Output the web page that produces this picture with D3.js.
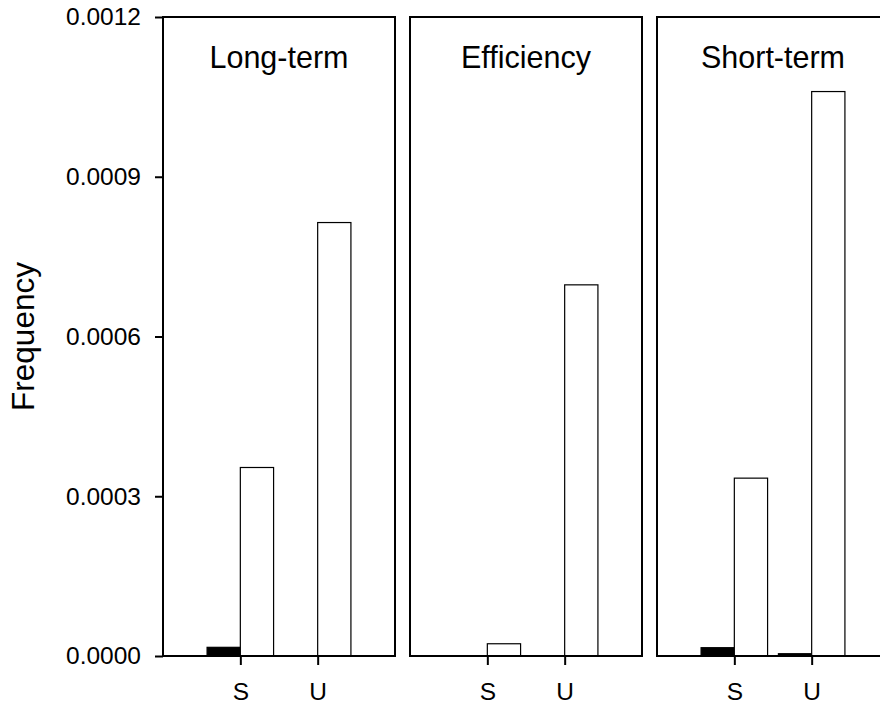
<!DOCTYPE html>
<html>
<head>
<meta charset="utf-8">
<script src="https://cdn.jsdelivr.net/npm/d3@7"></script>
<style>
  body { margin: 0; background: #fff; }
  svg { display: block; font-family: "Liberation Sans", Arial, Helvetica, sans-serif; }
  .tick text { font-size: 24.5px; fill: #000; }
  .tick line { stroke: #000; stroke-width: 2; }
  .domain { display: none; }
</style>
</head>
<body>
<script>
// values
var panelNames = ["Long-term", "Efficiency", "Short-term"];
var groupNames = ["S", "U"];
var filledValues = [[0.0000163, 0], [0, 0], [0.0000156, 0.0000043]];
var openValues = [[0.000354, 0.000814], [0.000023, 0.000697], [0.000334, 0.00106]];
var yTicks = [0, 0.0003, 0.0006, 0.0009, 0.0012];

var w = 880, h = 705;
var panelLeft = 163, panelWidth = 232, panelGap = 15;
var plotTop = 17, plotBottom = 656;
var barWidth = 0.43;

var svg = d3.select("body")
	.append("svg")
	.attr("width", w)
	.attr("height", h);

var y = d3.scaleLinear()
	.domain([0, 0.0012])
	.range([plotBottom, plotTop]);

//Y axis on the first panel only
svg.append("g")
	.attr("transform", "translate(" + panelLeft + ",0)")
	.call(d3.axisLeft(y)
		.tickValues(yTicks)
		.tickFormat(d3.format(".4f"))
		.tickSize(8)
		.tickPadding(14));

svg.append("text")
	.attr("transform", "translate(34," + ((plotTop + plotBottom) / 2) + ") rotate(-90)")
	.attr("text-anchor", "middle")
	.style("font-size", "31.5px")
	.text("Frequency");

panelNames.forEach(function(name, p) {
	var x0 = panelLeft + p * (panelWidth + panelGap);
	var x = d3.scaleLinear()
		.domain([0, 3])
		.range([x0, x0 + panelWidth]);

	var g = svg.append("g");

	//bars, filled one left of the group centre, open one right of it
	var rows = groupNames.map(function(gName, i) {
		return { center: i + 1, filled: filledValues[p][i], open: openValues[p][i] };
	});

	g.selectAll("rect.filled")
		.data(rows)
		.enter()
		.append("rect")
		.attr("class", "filled")
		.attr("x", function(d) { return x(d.center - barWidth); })
		.attr("y", function(d) { return y(d.filled); })
		.attr("width", function(d) { return x(d.center) - x(d.center - barWidth); })
		.attr("height", function(d) { return y(0) - y(d.filled); })
		.attr("fill", "#000")
		.attr("stroke", "#000")
		.attr("stroke-width", 1.2);

	g.selectAll("rect.open")
		.data(rows)
		.enter()
		.append("rect")
		.attr("class", "open")
		.attr("x", function(d) { return x(d.center); })
		.attr("y", function(d) { return y(d.open); })
		.attr("width", function(d) { return x(d.center + barWidth) - x(d.center); })
		.attr("height", function(d) { return y(0) - y(d.open); })
		.attr("fill", "#fff")
		.attr("stroke", "#000")
		.attr("stroke-width", 1.2);

	//frame
	g.append("rect")
		.attr("x", x0)
		.attr("y", plotTop)
		.attr("width", panelWidth)
		.attr("height", plotBottom - plotTop)
		.attr("fill", "none")
		.attr("stroke", "#000")
		.attr("stroke-width", 2);

	g.append("g")
		.attr("transform", "translate(0," + plotBottom + ")")
		.call(d3.axisBottom(x)
			.tickValues([1, 2])
			.tickFormat(function(d) { return groupNames[d - 1]; })
			.tickSize(9)
			.tickPadding(18));

	g.append("text")
		.attr("x", x0 + panelWidth / 2)
		.attr("y", 68)
		.attr("text-anchor", "middle")
		.style("font-size", "30.5px")
		.text(name);
});
</script>
</body>
</html>
